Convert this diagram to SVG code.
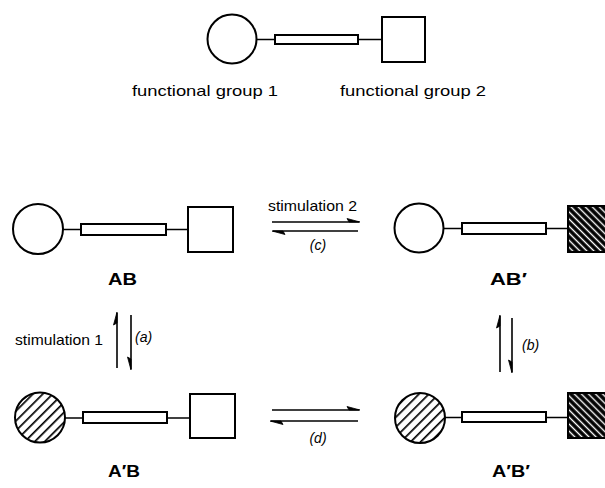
<svg xmlns="http://www.w3.org/2000/svg" width="605" height="488" viewBox="0 0 605 488">
<style>
.sh{fill:#fff;stroke:#000;stroke-width:2}
.ln{stroke:#000;stroke-width:1.6;fill:none}
.hc{fill:url(#hatchC);stroke:#000;stroke-width:2}
.hs{fill:url(#hatchS);stroke:#000;stroke-width:2}
.t{font-family:"Liberation Sans",Arial,sans-serif;font-size:15px;fill:#000}
.b{font-family:"Liberation Sans",Arial,sans-serif;font-size:16px;font-weight:bold;fill:#000}
.i{font-family:"Liberation Sans",Arial,sans-serif;font-size:14px;font-style:italic;fill:#000}
.ar{stroke:#000;stroke-width:1.6;fill:none}
.hd{fill:#000;stroke:#000;stroke-width:0.8}
</style>
<defs>
<pattern id="hatchC" patternUnits="userSpaceOnUse" width="7" height="7" patternTransform="rotate(45)">
<rect width="7" height="7" fill="#fff"/>
<line x1="0" y1="0" x2="0" y2="7" stroke="#000" stroke-width="3.4"/>
</pattern>
<pattern id="hatchS" patternUnits="userSpaceOnUse" width="5" height="5" patternTransform="rotate(-45)">
<rect width="5" height="5" fill="#000"/>
<line x1="2.5" y1="0" x2="2.5" y2="5" stroke="#fff" stroke-width="1.4"/>
</pattern>
</defs>

<g id="top-molecule">
<line class="ln" x1="257" y1="39.5" x2="382" y2="39.5"/>
<circle class="sh" cx="232" cy="39" r="24.5"/>
<rect class="sh" x="275" y="35" width="83" height="9"/>
<rect class="sh" x="382" y="17" width="43" height="45"/>
</g>
<g id="label-fg1"><text class="t" x="132" y="96" font-size="16" textLength="146" lengthAdjust="spacingAndGlyphs">functional group 1</text></g>
<g id="label-fg2"><text class="t" x="340" y="96" font-size="16" textLength="146" lengthAdjust="spacingAndGlyphs">functional group 2</text></g>

<g id="AB">
<line class="ln" x1="63" y1="229.5" x2="188" y2="229.5"/>
<circle class="sh" cx="38" cy="229" r="25"/>
<rect class="sh" x="81" y="224" width="85" height="11"/>
<rect class="sh" x="188" y="207" width="45" height="45"/>
<text class="b" x="108" y="285" textLength="29" lengthAdjust="spacingAndGlyphs">AB</text>
</g>

<g id="ABp">
<line class="ln" x1="443" y1="228.5" x2="568" y2="228.5"/>
<circle class="sh" cx="419" cy="228" r="24.5"/>
<rect class="sh" x="462" y="223" width="84" height="11"/>
<rect class="hs" x="568" y="206" width="45" height="46"/>
<text class="b" x="490" y="285" textLength="37" lengthAdjust="spacingAndGlyphs">AB′</text>
</g>

<g id="ApB">
<line class="ln" x1="65" y1="418" x2="190" y2="418"/>
<circle class="hc" cx="40" cy="417.5" r="25"/>
<rect class="sh" x="83" y="412" width="84" height="11"/>
<rect class="sh" x="190" y="394" width="45" height="44"/>
<text class="b" x="108" y="477" textLength="32" lengthAdjust="spacingAndGlyphs">A′B</text>
</g>

<g id="ApBp">
<line class="ln" x1="445" y1="417.5" x2="568" y2="417.5"/>
<circle class="hc" cx="420" cy="418" r="25"/>
<rect class="sh" x="462" y="412" width="84" height="10"/>
<rect class="hs" x="568" y="393" width="45" height="45"/>
<text class="b" x="492" y="477" textLength="38" lengthAdjust="spacingAndGlyphs">A′B′</text>
</g>

<g id="connectors">
<line class="ar" x1="272" y1="222" x2="359" y2="222"/>
<path class="hd" d="M360,222 L347,218.5 L349,222 Z"/>
<line class="ar" x1="273" y1="231" x2="358" y2="231"/>
<path class="hd" d="M272,231 L285,234.5 L283,231 Z"/>
<line class="ar" x1="272" y1="410" x2="359" y2="410"/>
<path class="hd" d="M360,410 L347,406.5 L349,410 Z"/>
<line class="ar" x1="271" y1="421" x2="358" y2="421"/>
<path class="hd" d="M270,421 L283,424.5 L281,421 Z"/>
<line class="ar" x1="117" y1="313" x2="117" y2="368"/>
<path class="hd" d="M117,312 L113.5,325 L117,323 Z"/>
<line class="ar" x1="131" y1="315" x2="131" y2="369"/>
<path class="hd" d="M131,370 L127.5,357 L131,359 Z"/>
<line class="ar" x1="500" y1="316" x2="500" y2="372"/>
<path class="hd" d="M500,315 L496.5,328 L500,326 Z"/>
<line class="ar" x1="512" y1="318" x2="512" y2="372"/>
<path class="hd" d="M512,373 L508.5,360 L512,362 Z"/>
</g>

<g id="labels">
<text class="t" x="268" y="211" font-size="14" textLength="89" lengthAdjust="spacingAndGlyphs">stimulation 2</text>
<text class="i" x="318" y="250" text-anchor="middle">(c)</text>
<text class="t" x="15" y="345" font-size="14" textLength="88" lengthAdjust="spacingAndGlyphs">stimulation 1</text>
<text class="i" x="135" y="342">(a)</text>
<text class="i" x="522" y="350">(b)</text>
<text class="i" x="318" y="443" text-anchor="middle">(d)</text>
</g>
</svg>
